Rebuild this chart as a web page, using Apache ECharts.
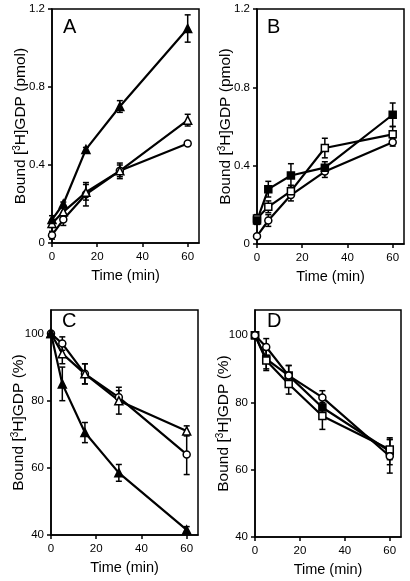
<!DOCTYPE html>
<html><head><meta charset="utf-8">
<script src="https://cdn.jsdelivr.net/npm/echarts@6/dist/echarts.min.js"></script>
<style>html,body{margin:0;padding:0;background:#fff}#c{width:410px;height:581px}</style>
</head><body><div id="c"></div>
<script>
// ---- data ----
const time = [0, 5, 15, 30, 60];
const xTicks = [0, 20, 40, 60];
const yTicksPmol = [0, 0.4, 0.8, 1.2];
const yTicksPct = [40, 60, 80, 100];

// Panel A (pmol)
const A_filledTri = [0.12, 0.20, 0.48, 0.70, 1.10];
const A_filledTriErr = [0.02, 0.01, 0.01, 0.03, 0.07];
const A_openTri = [0.10, 0.16, 0.26, 0.37, 0.63];
const A_openTriErr = [0.02, 0.02, 0.04, 0.03, 0.03];
const A_openCirc = [0.04, 0.12, 0.25, 0.37, 0.51];
const A_openCircErr = [0.02, 0.03, 0.06, 0.04, 0.01];

// Panel B (pmol)
const B_filledSq = [0.12, 0.28, 0.35, 0.39, 0.66];
const B_filledSqErr = [0.02, 0.04, 0.06, 0.03, 0.06];
const B_openSq = [0.13, 0.19, 0.27, 0.49, 0.56];
const B_openSqErr = [0.02, 0.03, 0.03, 0.05, 0.04];
const B_openCirc = [0.04, 0.12, 0.25, 0.37, 0.52];
const B_openCircErr = [0.01, 0.03, 0.03, 0.03, 0.02];

// Panel C (%)
const C_openCirc = [100, 97, 88, 81, 64];
const C_openCircErr = [0, 2, 3, 2, 6];
const C_openTri = [100, 94, 88, 80, 71];
const C_openTriErr = [0, 3, 3, 4, 1.5];
const C_filledTri = [100, 85, 70.5, 58.5, 41.5];
const C_filledTriErr = [0, 5, 3, 2.5, 1];

// Panel D (%)
const D_openCirc = [100, 96.5, 88, 81.5, 64];
const D_openCircErr = [0, 2.5, 3, 2, 5];
const D_filledSq = [100, 93, 88, 78.5, 65.5];
const D_filledSqErr = [0, 3, 3, 3, 4];
const D_openSq = [100, 92.5, 85.5, 76, 66];
const D_openSqErr = [0, 3, 3, 4, 3];

const panelLetters = ['A', 'B', 'C', 'D'];

// ---- build ----
const FONT = 'Liberation Sans, Arial, Helvetica, sans-serif';
const grids = [
  {left: 52, top: 9, width: 147, height: 234},
  {left: 257, top: 9, width: 147, height: 235},
  {left: 51, top: 310, width: 147, height: 225},
  {left: 255, top: 310, width: 146, height: 227}
];
const yRanges = [[0, 1.2], [0, 1.2], [40, 107], [40, 107.5]];
const yTickSets = [yTicksPmol, yTicksPmol, yTicksPct, yTicksPct];
const yNameGaps = [23, 23, 24, 23];
const yNames = ['Bound [{sup|3}H]GDP (pmol)', 'Bound [{sup|3}H]GDP (pmol)', 'Bound [{sup|3}H]GDP (%)', 'Bound [{sup|3}H]GDP (%)'];

const axisLineStyle = {color: '#000', width: 1.5};
const xAxes = grids.map((g, i) => ({
  type: 'value', gridIndex: i, min: 0, max: 65,
  name: 'Time (min)', nameLocation: 'middle', nameGap: 25,
  nameTextStyle: {fontFamily: FONT, fontSize: 14.5, color: '#000'},
  axisLine: {show: true, onZero: false, lineStyle: axisLineStyle},
  axisTick: {show: true, length: 4, inside: false, lineStyle: axisLineStyle, customValues: xTicks},
  axisLabel: {fontFamily: FONT, fontSize: 11.5, color: '#000', margin: 8, customValues: xTicks},
  splitLine: {show: false}
}));
const yAxes = grids.map((g, i) => ({
  type: 'value', gridIndex: i, min: yRanges[i][0], max: yRanges[i][1],
  name: yNames[i], nameLocation: 'middle', nameGap: yNameGaps[i], nameMoveOverlap: false,
  nameTextStyle: {fontFamily: FONT, fontSize: 15.5, color: '#000',
    rich: {sup: {fontFamily: FONT, fontSize: 10, color: '#000', padding: [0, 0, 7, 0]}}},
  axisLine: {show: true, onZero: false, lineStyle: axisLineStyle},
  axisTick: {show: true, length: 4, inside: false, lineStyle: axisLineStyle, customValues: yTickSets[i]},
  axisLabel: {fontFamily: FONT, fontSize: 11.5, color: '#000', margin: 7, customValues: yTickSets[i],
    formatter: v => String(v)},
  splitLine: {show: false}
}));

function errRender(params, api) {
  const x = api.value(0), y = api.value(1), e = api.value(2);
  if (!e) return null;
  const hi = api.coord([x, y + e]), lo = api.coord([x, y - e]);
  const w = 3;
  const st = {stroke: '#000', lineWidth: 1.5};
  return {type: 'group', children: [
    {type: 'line', shape: {x1: hi[0], y1: hi[1], x2: lo[0], y2: lo[1]}, style: st},
    {type: 'line', shape: {x1: hi[0] - w, y1: hi[1], x2: hi[0] + w, y2: hi[1]}, style: st},
    {type: 'line', shape: {x1: lo[0] - w, y1: lo[1], x2: lo[0] + w, y2: lo[1]}, style: st}
  ]};
}

const series = [];
function addSeries(gi, vals, errs, symbol, filled) {
  series.push({
    type: 'custom', xAxisIndex: gi, yAxisIndex: gi, renderItem: errRender, z: 2,
    data: time.map((t, k) => [t, vals[k], errs[k]]), silent: true
  });
  series.push({
    type: 'line', xAxisIndex: gi, yAxisIndex: gi, z: 3,
    data: time.map((t, k) => [t, vals[k]]),
    symbol: symbol, symbolSize: symbol === 'rect' ? 7 : (symbol === 'triangle' ? 8 : 7),
    showAllSymbol: true,
    lineStyle: {color: '#000', width: 2.2},
    itemStyle: {color: filled ? '#000' : '#fff', borderColor: '#000', borderWidth: 1.5, opacity: 1},
    animation: false
  });
}
addSeries(0, A_openCirc, A_openCircErr, 'circle', false);
addSeries(0, A_openTri, A_openTriErr, 'triangle', false);
addSeries(0, A_filledTri, A_filledTriErr, 'triangle', true);
addSeries(1, B_openCirc, B_openCircErr, 'circle', false);
addSeries(1, B_openSq, B_openSqErr, 'rect', false);
addSeries(1, B_filledSq, B_filledSqErr, 'rect', true);
addSeries(2, C_openCirc, C_openCircErr, 'circle', false);
addSeries(2, C_openTri, C_openTriErr, 'triangle', false);
addSeries(2, C_filledTri, C_filledTriErr, 'triangle', true);
addSeries(3, D_filledSq, D_filledSqErr, 'rect', true);
addSeries(3, D_openSq, D_openSqErr, 'rect', false);
addSeries(3, D_openCirc, D_openCircErr, 'circle', false);

const letterPos = [[63, 17], [267, 17], [62, 311], [267, 311]];
const graphic = panelLetters.map((L, i) => ({
  type: 'text', left: letterPos[i][0], top: letterPos[i][1],
  style: {text: L, fontFamily: FONT, fontSize: 20, fill: '#000'}
}));

const chart = echarts.init(document.getElementById('c'), null, {renderer: 'canvas'});
chart.setOption({
  animation: false,
  backgroundColor: '#fff',
  grid: grids.map(g => Object.assign({show: true, borderColor: '#000', borderWidth: 1.5, containLabel: false}, g)),
  xAxis: xAxes,
  yAxis: yAxes,
  series: series,
  graphic: graphic
});
</script></body></html>
